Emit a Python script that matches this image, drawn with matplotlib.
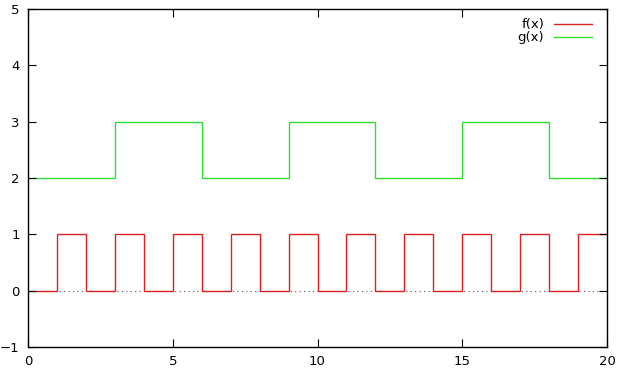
import matplotlib
matplotlib.use("Agg")
import matplotlib.pyplot as plt

# step functions as edges + levels
f_edges = [0, 1, 2, 3, 4, 5, 6, 7, 8, 9, 10, 11, 12, 13, 14, 15, 16, 17, 18, 19, 20]
f_levels = [0, 1, 0, 1, 0, 1, 0, 1, 0, 1, 0, 1, 0, 1, 0, 1, 0, 1, 0, 1]
g_edges = [0, 3, 6, 9, 12, 15, 18, 20]
g_levels = [2, 3, 2, 3, 2, 3, 2]

xticks = [0, 5, 10, 15, 20]
yticks = [-1, 0, 1, 2, 3, 4, 5]

plt.rcParams['font.family'] = ['DejaVu Sans']
plt.rcParams['font.size'] = 9.5

fig = plt.figure(figsize=(6.31, 3.77), dpi=100)
ax = fig.add_axes([28 / 631, 30 / 377, 579 / 631, 338 / 377])

ax.axhline(0, color='#555555', ls=(0, (1, 3)), lw=0.8, zorder=0)
ax.stairs(f_levels, f_edges, baseline=None, color='#e02020', lw=1, label='f(x)')
ax.stairs(g_levels, g_edges, baseline=None, color='#30e030', lw=1, label='g(x)')

ax.set_xlim(0, 20)
ax.set_ylim(-1, 5)
ax.set_xticks(xticks)
ax.set_yticks(yticks)
ax.tick_params(direction='in', length=6, width=0.8, top=True, right=True, pad=6)
for s in ax.spines.values():
    s.set_linewidth(1)

ax.legend(loc='upper right', bbox_to_anchor=(1 - 6 / 579, 1), frameon=False,
          markerfirst=False, handlelength=2.9, fontsize=9.5,
          borderaxespad=0.3, labelspacing=0.0, handletextpad=0.7)

fig.savefig('out.png', dpi=100)
